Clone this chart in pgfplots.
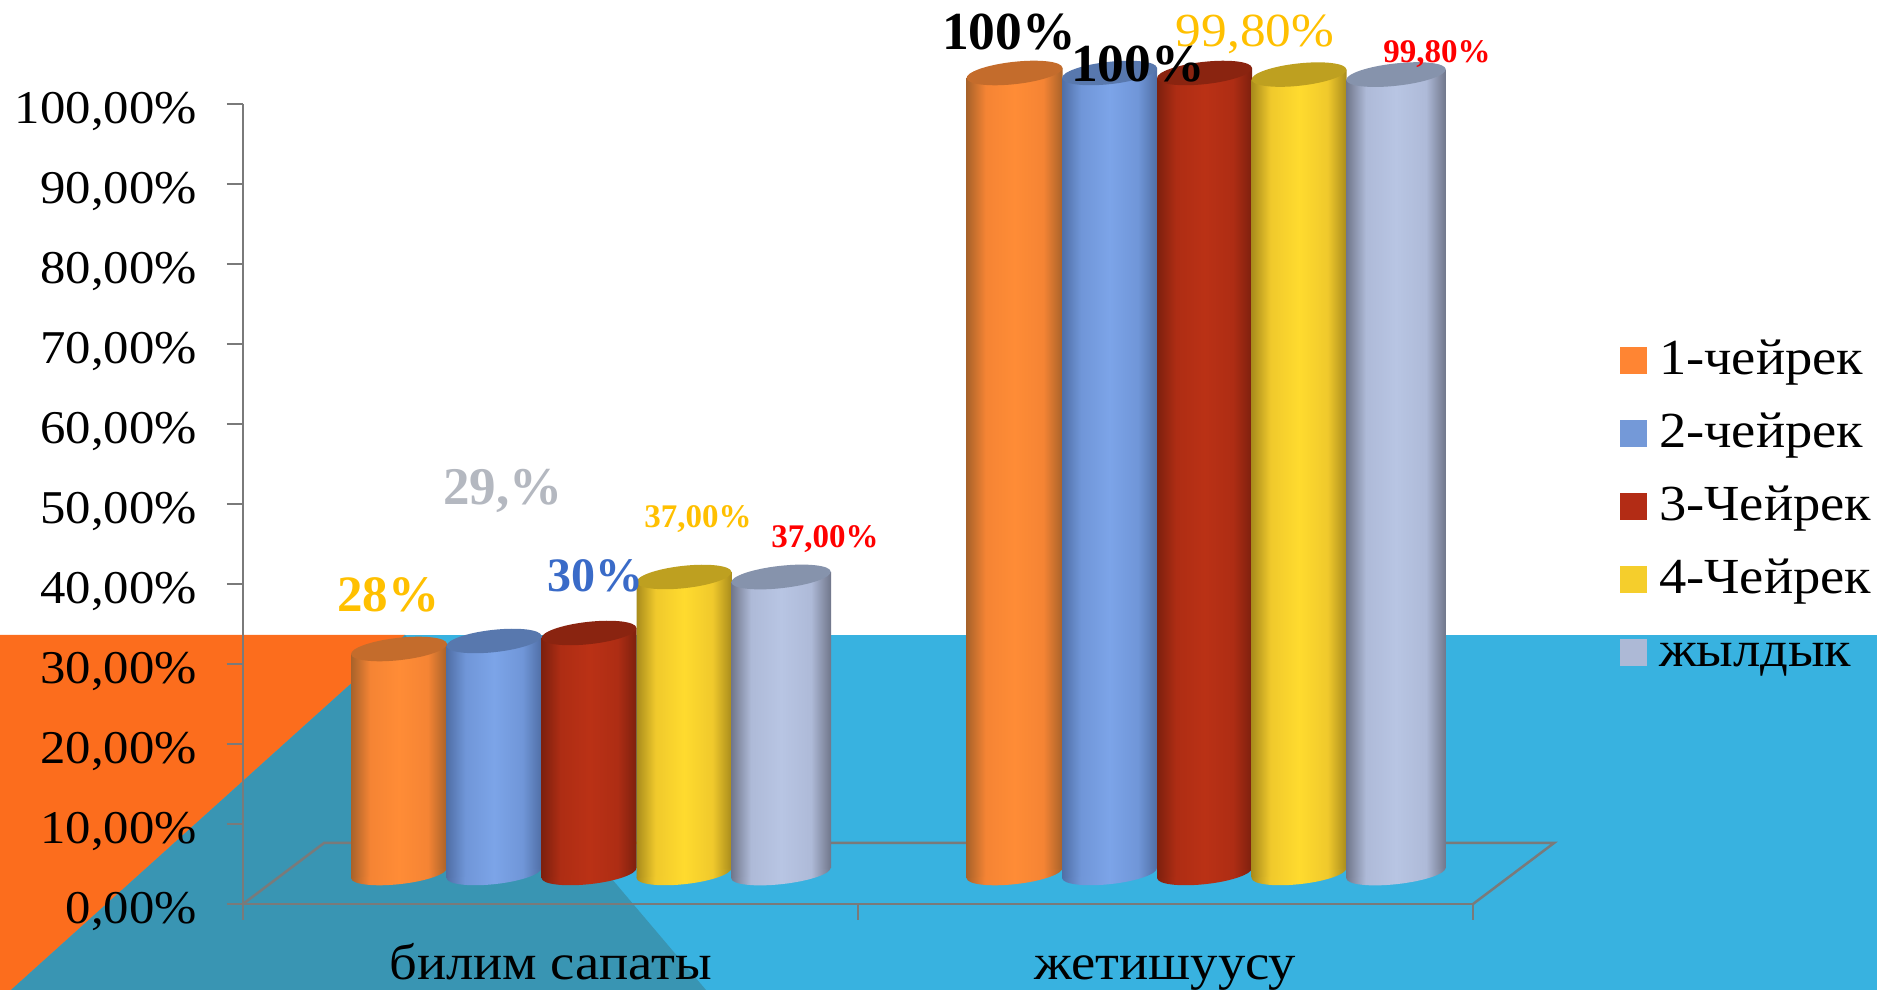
\documentclass[border=0pt]{standalone}
\usepackage{fontspec}
\setmainfont[FakeStretch=1.08,BoldFeatures={FakeStretch=1.0}]{Liberation Serif}
\usepackage{pgfplots}
\usepackage{pgfplotstable}
\pgfplotsset{compat=1.18}
\definecolor{bgblue}{HTML}{38B2E0}
\definecolor{bgorange}{HTML}{FC6D1D}
\definecolor{bgteal}{HTML}{3995B3}
\definecolor{axgrey}{HTML}{7A7A7A}
\definecolor{labyellow}{HTML}{FFC000}
\definecolor{labgrey}{HTML}{B4B8C0}
\definecolor{labblue}{HTML}{3A6BC8}
\definecolor{OrS}{HTML}{FF8533}
\definecolor{BlS}{HTML}{7499D8}
\definecolor{ReS}{HTML}{B32C15}
\definecolor{YeS}{HTML}{F5CE2C}
\definecolor{GrS}{HTML}{ADB9D6}
% one mark draws a whole cylinder: its top centre sits at the data point,
% its height is the value (8pt of canvas per percentage point)
\newcommand\cyl[8]{% name edge mid bright top ax1x ax1y halfwidth
  \definecolor{#1e}{HTML}{#2}\definecolor{#1m}{HTML}{#3}\definecolor{#1b}{HTML}{#4}\definecolor{#1t}{HTML}{#5}%
  \pgfdeclarehorizontalshading{s#1}{100bp}{color(0bp)=(#1e); color(25bp)=(#1e); color(35bp)=(#1m); color(50bp)=(#1b); color(65bp)=(#1m); color(75bp)=(#1e); color(100bp)=(#1e)}%
  \pgfdeclareplotmark{c#1}{%
    \pgfmathsetlengthmacro\hh{8pt*\hv}%
    \pgfpathellipse{\pgfqpoint{0pt}{-\hh}}{\pgfqpoint{#6pt}{#7pt}}{\pgfqpoint{-1.22pt}{11.09pt}}%
    \pgfshadepath{s#1}{0}\pgfusepath{discard}%
    \pgfpathmoveto{\pgfqpoint{-#8pt}{-5pt}}%
    \pgfpathlineto{\pgfqpoint{#8pt}{5pt}}%
    \pgfpathlineto{\pgfpointadd{\pgfqpoint{#8pt}{5pt}}{\pgfqpoint{0pt}{-\hh}}}%
    \pgfpathlineto{\pgfpointadd{\pgfqpoint{-#8pt}{-5pt}}{\pgfqpoint{0pt}{-\hh}}}%
    \pgfpathclose
    \pgfshadepath{s#1}{0}\pgfusepath{discard}%
    \pgfsetfillcolor{#1t}%
    \pgfpathellipse{\pgfpointorigin}{\pgfqpoint{#6pt}{#7pt}}{\pgfqpoint{-1.22pt}{11.09pt}}\pgfusepath{fill}}%
}
\cyl{Or}{A8622A}{F58434}{FF8C36}{C46C2C}{47.9}{5.3}{48}
\cyl{Bl}{506FA6}{7096D8}{7CA4E8}{5878AE}{47.4}{5.2}{47.5}
\cyl{Re}{7D200E}{AE2D14}{BA3115}{8A2410}{47.4}{5.2}{47.5}
\cyl{Ye}{A98C1C}{F0C92C}{FFDB2E}{BEA020}{47.4}{5.2}{47.5}
\cyl{Gr}{70768A}{AEBAD8}{B8C5E3}{8693AC}{49.7}{5.5}{50}
\pgfplotstableread{
x v
399 28
1014.5 100
}\tabOr
\pgfplotstableread{
x v
494 29
1109.5 100
}\tabBl
\pgfplotstableread{
x v
589 30
1204.5 100
}\tabRe
\pgfplotstableread{
x v
684 37
1299 99.8
}\tabYe
\pgfplotstableread{
x v
781 37
1396 99.8
}\tabGr
\newcommand\series[2]{% name table
  \addplot[forget plot,scatter,only marks,mark=c#1,point meta=y,
    visualization depends on={\thisrow{v} \as \hv}] table[x=x,y=v] {#2};
}
\newcommand\lab[6]{% x pxbaseline size weight colour text
  \node[anchor=base,inner sep=0pt,text=#5,font=\fontsize{#3}{#3}\selectfont#4] at (#1,990-#2) {#6};}
\begin{document}
\begin{tikzpicture}[x=1pt,y=1pt]
\path[use as bounding box,clip] (0,0) rectangle (1877,990);
% background (px y -> 990-y)
\fill[white] (0,0) rectangle (1877,990);
\fill[bgblue] (0,0) rectangle (1877,355);
\fill[bgorange] (0,355) -- (405,355) -- (11,0) -- (0,0) -- cycle;
\fill[bgteal] (405,355) -- (11,0) -- (706,0) -- cycle;
% floor
\draw[axgrey,line width=2.5pt,line join=miter] (243,86) -- (324,147) -- (1554,147) -- (1473,86);
% front axes
\begin{axis}[
  at={(243pt,86pt)},anchor=south west,
  scale only axis,width=1230pt,height=800pt,
  xmin=0,xmax=2,ymin=0,ymax=100,
  axis x line=bottom,axis y line=left,
  axis line style={-,axgrey,line width=2.5pt},
  tick align=outside,
  tick style={axgrey,line width=2.5pt},
  major tick length=16pt,
  minor tick length=16pt,
  ytick={0,10,...,100},
  yticklabels={{0,00\%},{10,00\%},{20,00\%},{30,00\%},{40,00\%},{50,00\%},{60,00\%},{70,00\%},{80,00\%},{90,00\%},{100,00\%}},
  xtick={0.5,1.5},
  xticklabels={билим сапаты,жетишуусу},
  minor xtick={0,1,2},
  major x tick style={draw=none},
  yticklabel style={font=\fontsize{47}{47}\selectfont,anchor=east,xshift=-30pt,yshift=-7pt,inner sep=0pt},
  xticklabel style={font=\fontsize{50.5}{50.5}\selectfont,anchor=base,yshift=-60pt,inner sep=0pt},
  clip=false,
]
\end{axis}
% data axis
\begin{axis}[
  at={(0pt,0pt)},anchor=south west,
  scale only axis,width=1877pt,height=990pt,
  xmin=0,xmax=1877,ymin=-14.625,ymax=109.125,
  hide axis,clip=false,
  legend style={at={(1620/1877,1-332.5/990)},anchor=north west,draw=none,fill=none,
    legend cell align=left,font=\fontsize{50.5}{50.5}\selectfont,
    row sep=17pt,inner sep=0pt,outer sep=0pt,
    nodes={inner sep=0pt,text height=27pt,text depth=29pt}},
]
\series{Or}{\tabOr}
\series{Bl}{\tabBl}
\series{Re}{\tabRe}
\series{Ye}{\tabYe}
\series{Gr}{\tabGr}
\addlegendimage{only marks,mark=square*,mark size=13pt,mark options={draw=OrS,fill=OrS,line width=0pt}}
\addlegendentry{\hspace*{13pt}\raisebox{-15pt}{1-чейрек}}
\addlegendimage{only marks,mark=square*,mark size=13pt,mark options={draw=BlS,fill=BlS,line width=0pt}}
\addlegendentry{\hspace*{13pt}\raisebox{-15pt}{2-чейрек}}
\addlegendimage{only marks,mark=square*,mark size=13pt,mark options={draw=ReS,fill=ReS,line width=0pt}}
\addlegendentry{\hspace*{13pt}\raisebox{-15pt}{3-Чейрек}}
\addlegendimage{only marks,mark=square*,mark size=13pt,mark options={draw=YeS,fill=YeS,line width=0pt}}
\addlegendentry{\hspace*{13pt}\raisebox{-15pt}{4-Чейрек}}
\addlegendimage{only marks,mark=square*,mark size=13pt,mark options={draw=GrS,fill=GrS,line width=0pt}}
\addlegendentry{\hspace*{13pt}\raisebox{-15pt}{жылдык}}
\end{axis}
% data labels
\lab{388}{612}{51}{\bfseries}{labyellow}{28\%}
\lab{503}{505}{53}{\bfseries}{labgrey}{29,\%}
\lab{595}{592}{48}{\bfseries}{labblue}{30\%}
\lab{698}{528}{33}{\bfseries}{labyellow}{37,00\%}
\lab{825}{548}{33}{\bfseries}{red}{37,00\%}
\lab{1009}{50}{53.5}{\bfseries}{black}{100\%}
\lab{1138}{82}{53.5}{\bfseries}{black}{100\%}
\lab{1255}{47}{47.5}{}{labyellow}{99,80\%}
\lab{1437}{63}{33}{\bfseries}{red}{99,80\%}
\end{tikzpicture}
\end{document}
